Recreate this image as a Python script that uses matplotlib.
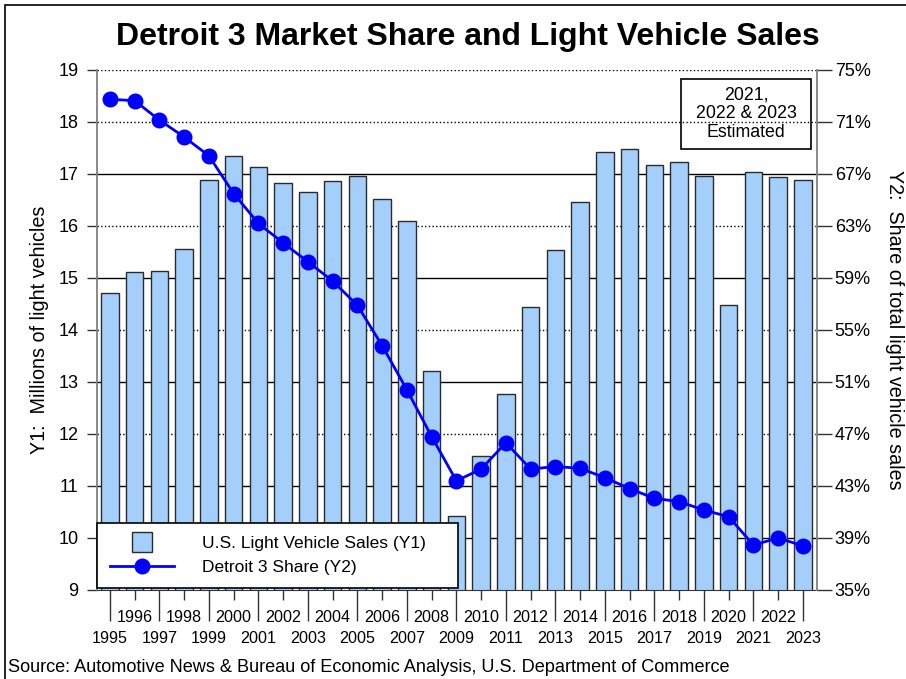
import numpy as np
import matplotlib
matplotlib.use("Agg")
import matplotlib.pyplot as plt
from matplotlib.lines import Line2D
from matplotlib.patches import Rectangle

plt.rcParams["font.family"] = ["Liberation Sans", "DejaVu Sans"]

# data
years = np.arange(1995, 2024)
sales = [14.72, 15.11, 15.13, 15.55, 16.88, 17.35, 17.13, 16.82, 16.65, 16.87,
         16.96, 16.51, 16.10, 13.22, 10.42, 11.58, 12.76, 14.44, 15.54, 16.46,
         17.42, 17.49, 17.17, 17.24, 16.97, 14.49, 17.04, 16.94, 16.88]
share = [72.75, 72.64, 71.15, 69.85, 68.4, 65.5, 63.2, 61.7, 60.25, 58.77,
         56.9, 53.8, 50.4, 46.8, 43.4, 44.3, 46.33, 44.3, 44.5, 44.36,
         43.64, 42.8, 42.05, 41.8, 41.15, 40.64, 38.46, 39.0, 38.4]

bar_color = "#a3cffa"
line_color = "#0000ff"
edge = "#2b2b2b"

fig = plt.figure(figsize=(9.06, 6.79), dpi=100)
ax = fig.add_axes([97 / 906, 1 - 590 / 679, 720 / 906, 520 / 679])
ax2 = ax.twinx()

# gridlines (mix of solid and dotted like the original)
for v in range(10, 20):
    ls = ":" if v in (12, 14, 16, 18, 19) else "-"
    ax.axhline(v, color="black", lw=1, ls=ls, zorder=0.5)

ax.bar(years, sales, width=0.71, color=bar_color, edgecolor=edge, lw=1, zorder=2)
ax2.plot(years, share, color=line_color, lw=2, marker="o", ms=10.5, zorder=3)

ax.set_xlim(1994.48, 2023.57)
ax.set_ylim(9, 19)
ax2.set_ylim(35, 75)

ax.set_yticks(range(9, 20))
ax.tick_params(axis="y", length=7.2, width=1, pad=6, labelsize=13, color="#333333")
ax2.set_yticks(range(35, 76, 4))
ax2.set_yticklabels(["%d%%" % v for v in range(35, 76, 4)])
ax2.tick_params(axis="y", length=10.8, width=1, pad=2, labelsize=13, color="#333333")

odd = [y for y in years if y % 2 == 1]
even = [y for y in years if y % 2 == 0]
ax.set_xticks(odd, labels=[str(y) for y in odd])
ax.set_xticks(even, labels=[str(y) for y in even], minor=True)
ax.tick_params(axis="x", which="major", length=22.3, width=1, pad=7, labelsize=11.6, color="#333333")
ax.tick_params(axis="x", which="minor", length=7.2, width=1, pad=7, labelsize=11.6, color="#333333")

for a in (ax, ax2):
    a.spines["top"].set_visible(False)
ax.spines["right"].set_visible(False)
ax2.spines["left"].set_visible(False)
ax2.spines["bottom"].set_visible(False)
ax.spines["left"].set_color("#808080")
ax.spines["left"].set_linewidth(1.3)
ax2.spines["right"].set_color("#808080")
ax2.spines["right"].set_linewidth(1.3)
ax.spines["bottom"].set_color("#333333")

ax.set_ylabel("Y1:  Millions of light vehicles", fontsize=14.2, labelpad=7)
ax2.set_ylabel("Y2:  Share of total light vehicle sales", fontsize=14.2,
               rotation=270, labelpad=24)

# legend
handles = [Line2D([], [], marker="s", ls="none", ms=14.4, mfc=bar_color, mec=edge, mew=1),
           Line2D([], [], color=line_color, lw=2, marker="o", ms=10.5)]
leg = ax.legend(handles, ["U.S. Light Vehicle Sales (Y1)", "Detroit 3 Share (Y2)"],
                loc="lower left", bbox_to_anchor=(0, 0.003, 0.501, 0.13), mode="expand",
                fontsize=12.5, handlelength=3.7, handletextpad=1.6, borderpad=0.75,
                labelspacing=0.55, borderaxespad=0, fancybox=False, framealpha=1)
leg.get_frame().set_edgecolor("black")
leg.get_frame().set_linewidth(1.2)
leg.set_zorder(5)

# "estimated" note
ax.add_patch(Rectangle((0.811, 0.848), 0.181, 0.135, transform=ax.transAxes,
                       fill=False, ec="black", lw=1.2, zorder=4))
ax.text(0.9015, 0.9155, "2021,\n2022 & 2023\nEstimated", transform=ax.transAxes,
        ha="center", va="center", fontsize=12.8, linespacing=1.13, zorder=4)

fig.text(0.516, 1 - 37 / 679, "Detroit 3 Market Share and Light Vehicle Sales",
         ha="center", va="center", fontsize=23, fontweight="bold")
fig.text(8 / 906, 1 - 668 / 679,
         "Source: Automotive News & Bureau of Economic Analysis, U.S. Department of Commerce",
         ha="left", va="center", fontsize=13.1)

# outer frame
fig.patches.append(Rectangle((5 / 906, -0.05), 1.1, 1 - 5 / 679 + 0.05,
                             transform=fig.transFigure, fill=False, ec="black", lw=1.2))

fig.savefig("out.png", dpi=100)
